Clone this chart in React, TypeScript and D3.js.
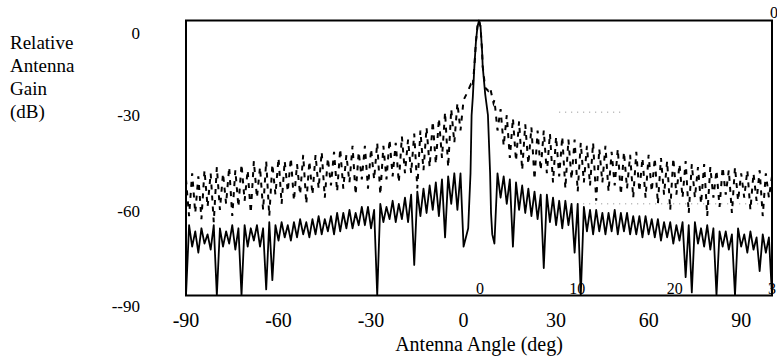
import React from "react";
import * as d3 from "d3";

// Sample grid: -90 .. 100 deg, 1 deg step (main beam 1..9 given separately)
const angleStart = -90;
const angleEnd = 100;

// Solid curve (low sidelobe pattern), dB at each integer degree
const solidGain: (number | null)[] = [
  // -90..-81
  -90, -67, -74, -69, -76, -68, -73, -70, -75, -67,
  // -80..-71
  -90, -68, -74, -69, -73, -67, -75, -68, -90, -67,
  // -70..-61
  -74, -68, -72, -67, -74, -68, -88, -66, -85, -67,
  // -60..-51
  -72, -66, -71, -67, -72, -66, -71, -65, -70, -66,
  // -50..-41
  -71, -65, -70, -64, -70, -65, -69, -64, -70, -63,
  // -40..-31
  -69, -63, -68, -62, -68, -63, -67, -61, -67, -61,
  // -30..-21
  -68, -62, -90, -60, -66, -61, -65, -59, -66, -60,
  // -20..-11
  -65, -58, -66, -57, -80, -56, -64, -55, -63, -54,
  // -10..-1
  -62, -53, -64, -52, -71, -51, -60, -50, -62, -50,
  // 0
  -74,
  // 1..9 (main beam, see beam arrays)
  null, null, null, null, null, null, null, null, null,
  // 10..19
  -73, -50, -58, -51, -60, -52, -74, -53, -62, -54,
  // 20..29
  -63, -55, -64, -56, -65, -57, -81, -57, -66, -58,
  // 30..39
  -67, -59, -68, -59, -67, -60, -76, -60, -90, -61,
  // 40..49
  -69, -62, -70, -62, -69, -63, -70, -63, -69, -62,
  // 50..59
  -70, -63, -69, -63, -70, -64, -70, -64, -71, -64,
  // 60..69
  -70, -65, -71, -65, -72, -66, -71, -66, -73, -67,
  // 70..79
  -72, -66, -84, -67, -89, -66, -73, -68, -74, -67,
  // 80..89
  -75, -68, -90, -69, -74, -69, -75, -70, -90, -68,
  // 90..100
  -74, -70, -76, -69, -75, -71, -82, -70, -76, -71, -90,
];

// Dashed curve (high sidelobe pattern)
const dashedGain: (number | null)[] = [
  // -90..-81
  -52, -64, -50, -63, -51, -65, -49, -61, -50, -66,
  // -80..-71
  -48, -62, -50, -60, -48, -64, -49, -61, -47, -59,
  // -70..-61
  -49, -63, -46, -58, -48, -62, -46, -64, -47, -57,
  // -60..-51
  -45, -60, -46, -56, -45, -59, -47, -57, -44, -60,
  // -50..-41
  -46, -57, -44, -55, -43, -58, -45, -54, -43, -56,
  // -40..-31
  -42, -55, -44, -53, -41, -57, -43, -52, -41, -55,
  // -30..-21
  -42, -52, -40, -57, -41, -52, -39, -51, -40, -53,
  // -20..-11
  -38, -50, -39, -50, -37, -55, -36, -49, -35, -48,
  // -10..-1
  -33, -47, -32, -45, -30, -48, -29, -40, -27, -36,
  // 0
  -26,
  // 1..9
  null, null, null, null, null, null, null, null, null,
  // 10..19
  -26, -36, -29, -41, -31, -45, -32, -46, -33, -49,
  // 20..29
  -34, -47, -35, -52, -36, -49, -36, -50, -37, -53,
  // 30..39
  -38, -51, -38, -55, -39, -52, -39, -56, -40, -53,
  // 40..49
  -41, -54, -40, -59, -42, -53, -41, -56, -43, -54,
  // 50..59
  -42, -57, -43, -55, -44, -58, -43, -56, -45, -58,
  // 60..69
  -44, -56, -45, -60, -45, -57, -46, -62, -45, -57,
  // 70..79
  -47, -58, -46, -63, -47, -58, -48, -60, -47, -64,
  // 80..89
  -48, -58, -49, -61, -48, -57, -49, -63, -48, -59,
  // 90..100
  -50, -58, -49, -62, -50, -59, -49, -64, -50, -58, -51,
];

// Main beam (steered to 5 deg)
const beamAngles = [1.5, 1.7, 2.25, 2.6, 3.0, 3.5, 4.0, 4.5, 5.0, 5.5, 6.0, 6.2, 7.0, 7.9, 8.6, 8.9, 9.3];
const beamGain = [-68, -63, -50, -31, -25, -15, -7, -2, 0, -2, -10, -15, -24, -31, -50, -63, -70];

const dashedBeamAngles = [1.0, 2.3, 2.9, 3.5, 4.0, 4.5, 5.0, 5.5, 6.0, 6.2, 7.0, 8.0, 8.6, 9.7];
const dashedBeamGain = [-24, -21, -22, -15, -7, -2, 0, -2, -10, -15, -22, -23, -22, -27];

// Axis labels
const xTicks = [-90, -60, -30, 0, 30, 60, 90];
const yTicks = [0, -30, -60, -90];
const yTickLabels = ["0", "-30", "-60", "--90"];
const auxTicks = [0, 10, 20, 30];
const auxTickLabels = ["0", "10", "20", "3"];
const yTitleLines = ["Relative", "Antenna", "Gain", "(dB)"];
const xTitle = "Antenna Angle (deg)";

// faint residual grid segments (dB level, from angle, to angle)
const gridLevels = [-30, -60];
const gridFrom = [31, 31];
const gridTo = [51, 99];

export default function App() {
  const W = 777;
  const H = 358;
  const left = 186, right = 772, top = 20.5, bottom = 295.5;
  const x = d3.scaleLinear().domain([-90, 100]).range([left, right]);
  const y = d3.scaleLinear().domain([0, -90]).range([top, bottom]);
  const xAux = d3.scaleLinear().domain([0, 30]).range([x(5.3), right]);

  const angles = d3.range(angleStart, angleEnd + 1);

  const build = (gains: (number | null)[], bA: number[], bG: number[]) => {
    const pts: [number, number][] = [];
    angles.forEach((a, i) => {
      const g = gains[i];
      if (g !== null && g !== undefined) pts.push([a, g]);
    });
    bA.forEach((a, i) => pts.push([a, bG[i]]));
    pts.sort((p, q) => p[0] - q[0]);
    return pts;
  };

  const line = d3
    .line<[number, number]>()
    .x((d) => x(d[0]))
    .y((d) => y(d[1]));

  const solidPath = line(build(solidGain, beamAngles, beamGain)) || "";
  const dashedPath = line(build(dashedGain, dashedBeamAngles, dashedBeamGain)) || "";

  const yNudge = [18.5, 8.5, 13.5, 16.5];
  const font = '"Liberation Serif", "Times New Roman", "DejaVu Serif", serif';
  const ts = { fontFamily: font } as React.CSSProperties;

  return (
    <svg
      width={W}
      height={H}
      style={{ position: "absolute", left: 0, top: 0, background: "#fff" }}
    >
      <rect x={0} y={0} width={W} height={H} fill="#fff" />
      <defs>
        <clipPath id="plot">
          <rect x={left} y={top - 2} width={right - left} height={bottom - top + 2} />
        </clipPath>
      </defs>

      {/* faint grid residue */}
      {gridLevels.map((lv, i) => (
        <line
          key={"g" + i}
          x1={x(gridFrom[i])}
          x2={x(gridTo[i])}
          y1={y(lv)}
          y2={y(lv)}
          stroke="#888"
          strokeWidth={1}
          strokeDasharray="1 5"
        />
      ))}

      <g clipPath="url(#plot)">
        <path
          d={dashedPath}
          fill="none"
          stroke="#000"
          strokeWidth={2}
          strokeDasharray="5 6"
        />
        <path d={solidPath} fill="none" stroke="#000" strokeWidth={1.8} strokeLinejoin="round" />
      </g>

      {/* frame */}
      <rect x={left} y={top} width={right - left} height={bottom - top} fill="none" stroke="#000" strokeWidth={2} />

      {/* y tick labels */}
      {yTicks.map((t, i) => (
        <text key={"y" + i} x={140} y={y(t) + yNudge[i]} fontSize={17} textAnchor="end" fill="#000" style={ts}>
          {yTickLabels[i]}
        </text>
      ))}

      {/* x tick labels */}
      {xTicks.map((t, i) => (
        <text key={"x" + i} x={x(t)} y={327} fontSize={20} textAnchor="middle" fill="#000" style={ts}>
          {t}
        </text>
      ))}

      {/* auxiliary scale labels */}
      {auxTicks.map((t, i) => (
        <text key={"a" + i} x={xAux(t)} y={294} fontSize={16} textAnchor="middle" fill="#000" style={ts}>
          {auxTickLabels[i]}
        </text>
      ))}
      <text x={right + 2} y={18} fontSize={16} textAnchor="middle" fill="#000" style={ts}>
        {auxTickLabels[0]}
      </text>

      {/* y title */}
      {yTitleLines.map((s, i) => (
        <text key={"t" + i} x={10} y={49 + i * 23} fontSize={19} fill="#000" style={ts}>
          {s}
        </text>
      ))}

      {/* x title */}
      <text x={x(5)} y={351} fontSize={20} textAnchor="middle" fill="#000" style={ts}>
        {xTitle}
      </text>
    </svg>
  );
}
